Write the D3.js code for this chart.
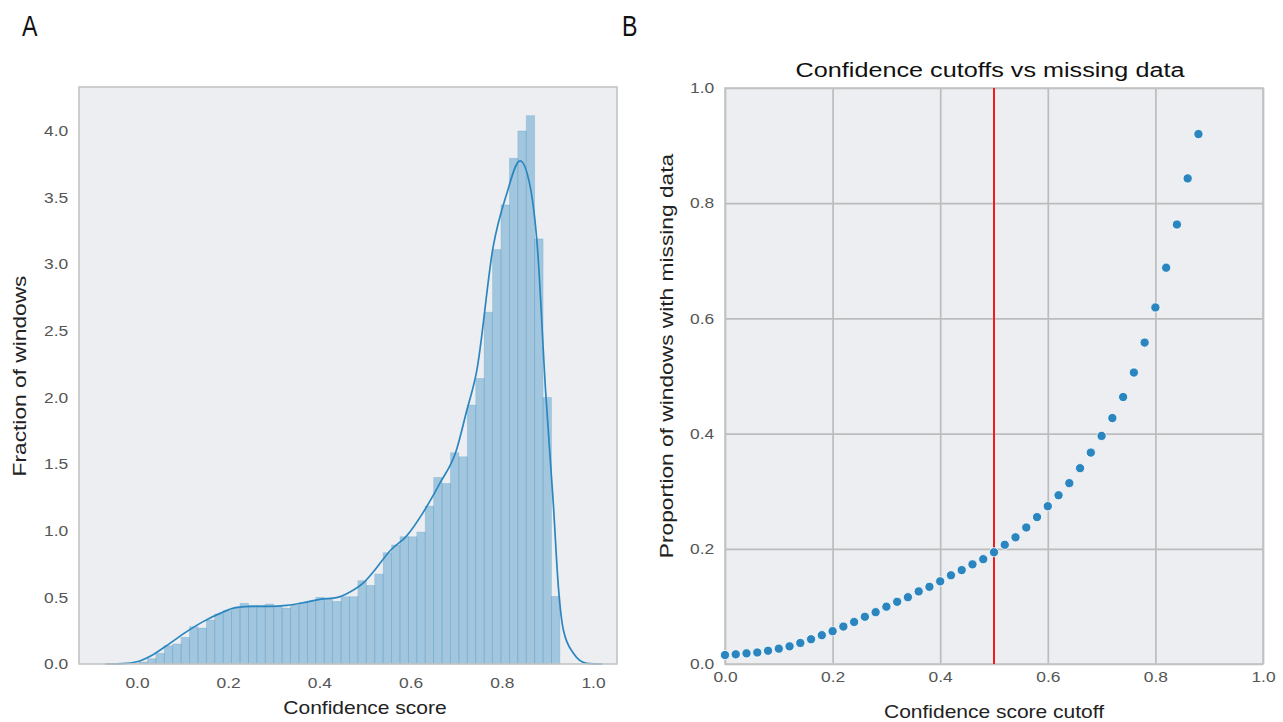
<!DOCTYPE html>
<html lang="en">
<head>
    <meta charset="utf-8">
    <script src="https://unpkg.com/d3@7/dist/d3.min.js"></script>
    <style>
        body { margin: 0; background: #fff; }
        svg text { font-family: "Liberation Sans", Arial, sans-serif; }
        .tick text { fill: #555; font-size: 14.5px; }
    </style>
</head>
<body>
<div id="chart"></div>
<script>
// ---- panel A: histogram of confidence scores ----
const binStart = 0.0044;
const binWidth = 0.01846;
const histValues = [
    0.015, 0.04, 0.08, 0.137, 0.15, 0.20, 0.28, 0.27, 0.33, 0.375,
    0.40, 0.42, 0.455, 0.44, 0.44, 0.45, 0.43, 0.42, 0.44, 0.46,
    0.47, 0.50, 0.49, 0.47, 0.505, 0.505, 0.625, 0.59, 0.675, 0.835,
    0.893, 0.955, 0.955, 0.99, 1.185, 1.40, 1.355, 1.585, 1.555, 1.943,
    2.143, 2.64, 3.11, 3.445, 3.795, 4.0, 4.115, 3.19, 2.0, 0.507
];
// kde curve
const kdeX = [-0.07, -0.03, 0.0, 0.036, 0.072, 0.109, 0.145, 0.182, 0.219, 0.255,
    0.292, 0.328, 0.365, 0.401, 0.44, 0.467, 0.5, 0.518, 0.555, 0.591,
    0.628, 0.664, 0.7, 0.723, 0.745, 0.781, 0.81, 0.84, 0.86, 0.878,
    0.896, 0.913, 0.924, 0.935, 0.957, 0.986, 1.02];
const kdeY = [0, 0.003, 0.017, 0.072, 0.155, 0.243, 0.318, 0.38, 0.425, 0.432,
    0.432, 0.44, 0.46, 0.485, 0.5, 0.54, 0.62, 0.69, 0.85, 0.96,
    1.14, 1.355, 1.6, 1.9, 2.2, 3.13, 3.52, 3.776, 3.62, 3.13,
    2.05, 1.2, 0.58, 0.255, 0.08, 0.005, 0];
const histXTicks = [0.0, 0.2, 0.4, 0.6, 0.8, 1.0];
const histYTicks = [0.0, 0.5, 1.0, 1.5, 2.0, 2.5, 3.0, 3.5, 4.0];

// ---- panel B: missing data vs cutoff ----
const cutoffs = [0.00, 0.02, 0.04, 0.06, 0.08, 0.10, 0.12, 0.14, 0.16, 0.18,
    0.20, 0.22, 0.24, 0.26, 0.28, 0.30, 0.32, 0.34, 0.36, 0.38,
    0.40, 0.42, 0.44, 0.46, 0.48, 0.50, 0.52, 0.54, 0.56, 0.58,
    0.60, 0.62, 0.64, 0.66, 0.68, 0.70, 0.72, 0.74, 0.76, 0.78,
    0.80, 0.82, 0.84, 0.86, 0.88];
const missing = [0.0156, 0.0168, 0.0185, 0.020, 0.023, 0.0266, 0.0307, 0.0365, 0.043, 0.050,
    0.057, 0.065, 0.073, 0.082, 0.090, 0.0995, 0.108, 0.116, 0.126, 0.134,
    0.1435, 0.154, 0.163, 0.173, 0.182, 0.194, 0.207, 0.220, 0.237, 0.255,
    0.274, 0.293, 0.314, 0.340, 0.367, 0.396, 0.427, 0.4635, 0.506, 0.558,
    0.619, 0.688, 0.763, 0.843, 0.920];
const cutoffLine = 0.5;
const bTicks = [0.0, 0.2, 0.4, 0.6, 0.8, 1.0];

const W = 1283, H = 722;
const bg = "#eceef1", frame = "#c4c4c4", blue = "#2b86c0";
const sx = 1.2; // the figure's text is a bit wider than it is tall

const svg = d3.select("#chart").append("svg")
    .attr("width", W).attr("height", H);

// text helper, stretched along the baseline
function label(x, y, str, size, opts = {}) {
    return svg.append("text")
        .attr("transform", `translate(${x},${y}) ${opts.rotate ? "rotate(-90)" : ""} scale(${opts.sx || sx},1)`)
        .attr("text-anchor", opts.anchor || "middle")
        .attr("font-size", size)
        .attr("fill", opts.fill || "#222")
        .text(str);
}

// panel letters
label(22, 36, "A", 29, { anchor: "start", sx: 0.8, fill: "#111" });
label(622, 36, "B", 29, { anchor: "start", sx: 0.8, fill: "#111" });

// ================= panel A =================
const a = { l: 79, r: 617, t: 87, b: 664 };
const xA = d3.scaleLinear().domain([-0.1272, 1.0526]).range([a.l, a.r]);
const yA = d3.scaleLinear().domain([0, 4.33]).range([a.b, a.t]);

const gA = svg.append("g");
gA.append("rect").attr("x", a.l).attr("y", a.t)
    .attr("width", a.r - a.l).attr("height", a.b - a.t).attr("fill", bg);

gA.selectAll("rect.bar")
    .data(histValues)
    .join("rect")
    .attr("class", "bar")
    .attr("x", (d, i) => xA(binStart + i * binWidth))
    .attr("width", xA(binWidth) - xA(0))
    .attr("y", d => yA(d))
    .attr("height", d => yA(0) - yA(d))
    .attr("fill", "rgba(43,134,192,0.38)")
    .attr("stroke", "rgba(43,134,192,0.22)")
    .attr("stroke-width", 0.8);

const kde = kdeX.map((x, i) => [x, kdeY[i]]);
gA.append("path")
    .datum(kde)
    .attr("fill", "none")
    .attr("stroke", blue)
    .attr("stroke-width", 1.7)
    .attr("d", d3.line().x(d => xA(d[0])).y(d => yA(d[1])).curve(d3.curveMonotoneX));

gA.append("rect").attr("x", a.l).attr("y", a.t)
    .attr("width", a.r - a.l).attr("height", a.b - a.t)
    .attr("fill", "none").attr("stroke", frame).attr("stroke-width", 1.6);

const axAx = gA.append("g").attr("transform", `translate(0,${a.b})`)
    .call(d3.axisBottom(xA).tickValues(histXTicks).tickSize(0).tickPadding(14).tickFormat(d3.format(".1f")));
axAx.select(".domain").remove();
const axAy = gA.append("g").attr("transform", `translate(${a.l},0)`)
    .call(d3.axisLeft(yA).tickValues(histYTicks).tickSize(0).tickPadding(9).tickFormat(d3.format(".1f")));
axAy.select(".domain").remove();

label((xA(0) + xA(1)) / 2, 714, "Confidence score", 17.5);
label(26, 376, "Fraction of windows", 17.5, { rotate: true, sx: 1.3 });

// ================= panel B =================
const b = { l: 725, r: 1263, t: 88, b: 664 };
const xB = d3.scaleLinear().domain([0, 1]).range([b.l, b.r]);
const yB = d3.scaleLinear().domain([0, 1]).range([b.b, b.t]);

const gB = svg.append("g");
gB.append("rect").attr("x", b.l).attr("y", b.t)
    .attr("width", b.r - b.l).attr("height", b.b - b.t).attr("fill", bg);

const axBx = gB.append("g").attr("transform", `translate(0,${b.b})`)
    .call(d3.axisBottom(xB).tickValues(bTicks).tickSize(-(b.b - b.t)).tickPadding(8).tickFormat(d3.format(".1f")));
const axBy = gB.append("g").attr("transform", `translate(${b.l},0)`)
    .call(d3.axisLeft(yB).tickValues(bTicks).tickSize(-(b.r - b.l)).tickPadding(9).tickFormat(d3.format(".1f")));
[axBx, axBy].forEach(ax => {
    ax.select(".domain").remove();
    ax.selectAll(".tick line").attr("stroke", "#bcbcbc").attr("stroke-width", 1.7);
});

// stretch the tick labels like the rest of the text
[axAx, axAy, axBx, axBy].forEach(ax => ax.selectAll(".tick text").attr("transform", `scale(${sx},1)`));

gB.append("rect").attr("x", b.l).attr("y", b.t)
    .attr("width", b.r - b.l).attr("height", b.b - b.t)
    .attr("fill", "none").attr("stroke", frame).attr("stroke-width", 1.6);

gB.append("line")
    .attr("x1", xB(cutoffLine)).attr("x2", xB(cutoffLine))
    .attr("y1", yB(0)).attr("y2", yB(1))
    .attr("stroke", "#f21c1c").attr("stroke-width", 2);

gB.selectAll("circle.pt")
    .data(cutoffs)
    .join("circle")
    .attr("class", "pt")
    .attr("cx", d => xB(d))
    .attr("cy", (d, i) => yB(missing[i]))
    .attr("r", 4.6)
    .attr("fill", blue)
    .attr("stroke", "#fff")
    .attr("stroke-width", 0.8);

label((b.l + b.r) / 2 - 4, 77, "Confidence cutoffs vs missing data", 21, { fill: "#111" });
label((b.l + b.r) / 2, 718, "Confidence score cutoff", 17.5);
label(673, 356, "Proportion of windows with missing data", 17.5, { rotate: true, sx: 1.3 });
</script>
</body>
</html>
